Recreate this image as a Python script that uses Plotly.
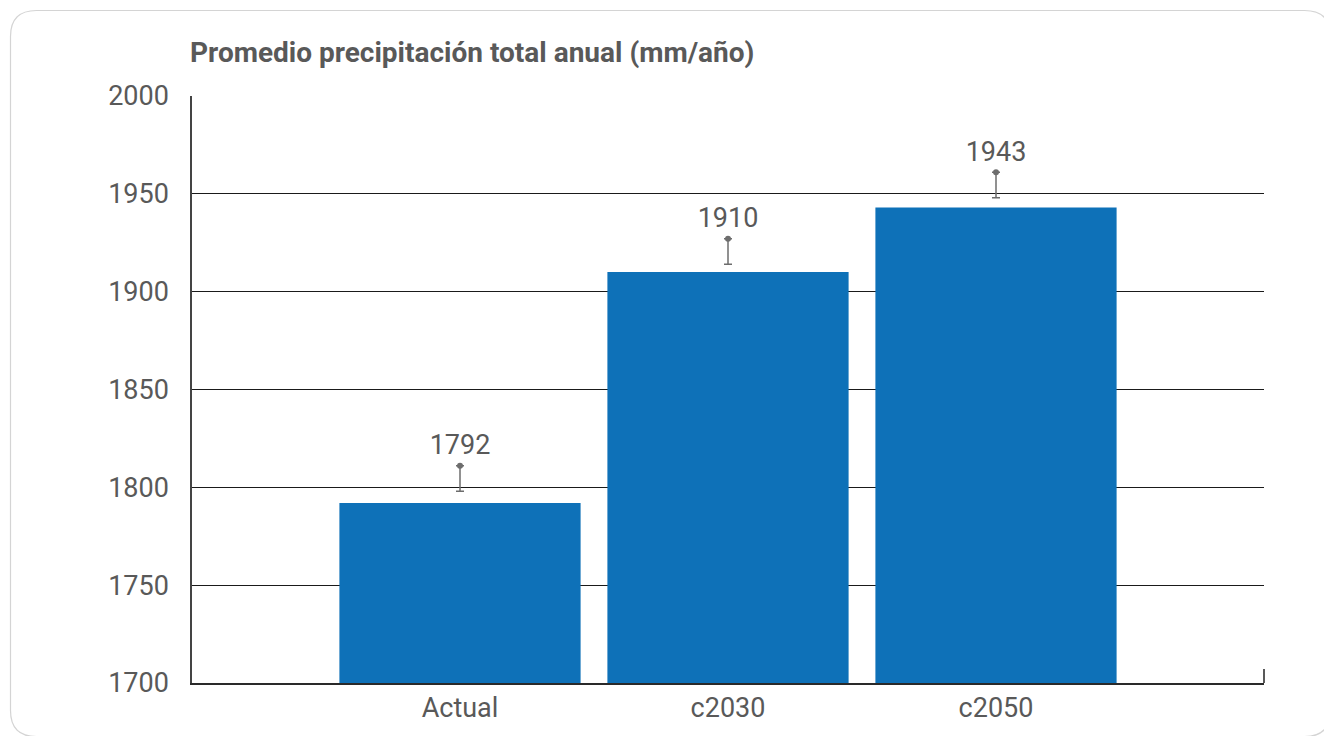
import plotly.graph_objects as go

categories = ["Actual", "c2030", "c2050"]
values = [1792, 1910, 1943]
whisker_top = [1811, 1927, 1961]
whisker_bottom = [1798, 1914, 1948]
y_ticks = [1700, 1750, 1800, 1850, 1900, 1950, 2000]

W, H = 1332, 736
OFF = 8  # page body offset
L, R, T, B = 192 - OFF, 76, 96 - OFF, 61
pw, ph = W - L - R, H - T - B

def px(x):
    return (x - OFF - L) / pw

def py(y):
    return (H - B - (y - OFF)) / ph

text_color = "#595959"
font_family = "Roboto, 'Open Sans', sans-serif"

fig = go.Figure()
fig.add_trace(go.Bar(
    x=categories, y=values, width=0.9,
    marker=dict(color="#0e71b8", line=dict(width=0)),
    hoverinfo="skip", showlegend=False,
))
fig.add_trace(go.Scatter(
    x=categories, y=whisker_top,
    mode="markers+text",
    text=[str(v) for v in values],
    textposition="top center",
    textfont=dict(size=27, color=text_color, family=font_family),
    marker=dict(size=6, color="#6d6d6d"),
    error_y=dict(type="data", symmetric=False,
                 array=[0, 0, 0],
                 arrayminus=[t - b for t, b in zip(whisker_top, whisker_bottom)],
                 color="#6d6d6d", thickness=1.5, width=4),
    hoverinfo="skip", showlegend=False, cliponaxis=False,
))

# card border (rounded rectangle), in page pixel coordinates
x0, y0, x1, y1, r = 10.5, 10.5, 1330.5, 736.5, 26
path = (f"M {px(x0 + r)},{py(y0)} L {px(x1 - r)},{py(y0)} "
        f"Q {px(x1)},{py(y0)} {px(x1)},{py(y0 + r)} "
        f"L {px(x1)},{py(y1 - r)} Q {px(x1)},{py(y1)} {px(x1 - r)},{py(y1)} "
        f"L {px(x0 + r)},{py(y1)} Q {px(x0)},{py(y1)} {px(x0)},{py(y1 - r)} "
        f"L {px(x0)},{py(y0 + r)} Q {px(x0)},{py(y0)} {px(x0 + r)},{py(y0)} Z")

shapes = [
    dict(type="path", path=path, xref="paper", yref="paper",
         line=dict(color="#d4d4d4", width=1.2), layer="below"),
    # small right tick at bottom
    dict(type="line", xref="paper", yref="paper", x0=1, x1=1, y0=0, y1=14 / ph,
         line=dict(color="#222222", width=1.5)),
]

fig.update_layout(
    width=W, height=H,
    margin=dict(l=L, r=R, t=T, b=B, autoexpand=False),
    paper_bgcolor="white", plot_bgcolor="white",
    bargap=0.1,
    title=dict(text="<b>Promedio precipitación total anual (mm/año)</b>",
               x=(190 - OFF) / W, xanchor="left", xref="container",
               y=1 - (52 - OFF) / H, yanchor="middle", yref="container",
               font=dict(size=28, color=text_color, family=font_family)),
    xaxis=dict(range=[-1, 3], showgrid=False, ticks="",
               showline=True, linecolor="#2a2a2a", linewidth=2,
               tickfont=dict(size=27, color=text_color, family=font_family),
               fixedrange=True),
    yaxis=dict(range=[1700, 2000], tickvals=y_ticks,
               showgrid=True, gridcolor="#1a1a1a", gridwidth=1,
               zeroline=False, showline=True, linecolor="#444444", linewidth=1.5,
               ticks="", ticklabelstandoff=16,
               tickfont=dict(size=27, color=text_color, family=font_family),
               fixedrange=True),
    shapes=shapes,
    showlegend=False,
)

fig.write_html("out.html")
